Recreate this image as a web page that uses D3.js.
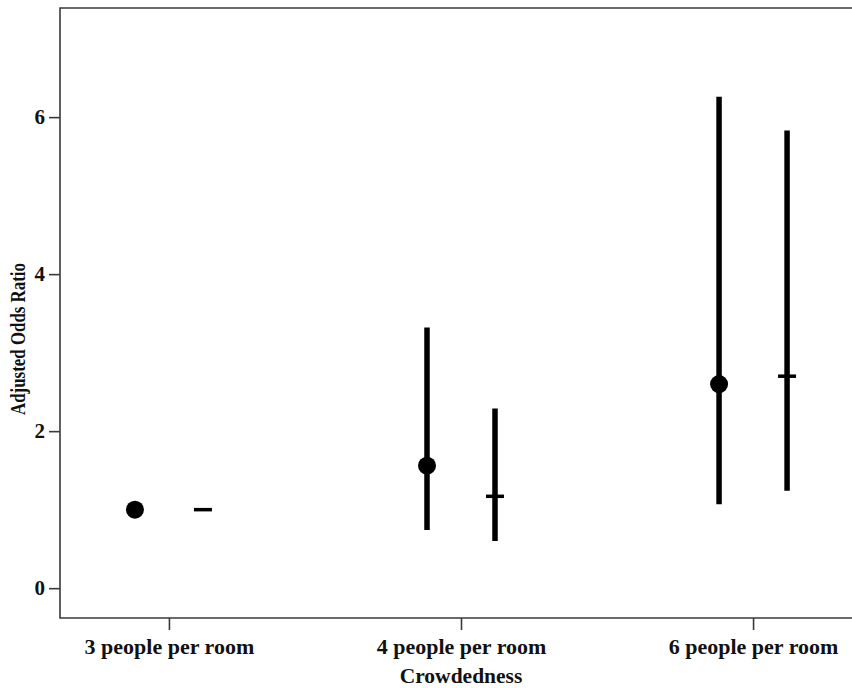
<!DOCTYPE html>
<html>
<head>
<meta charset="utf-8">
<script src="https://cdn.jsdelivr.net/npm/d3@7"></script>
<style>
  html, body { margin: 0; padding: 0; background: #fff; }
  svg text { font-family: "Liberation Serif", "Times New Roman", serif; }
</style>
</head>
<body>
<svg id="chart" width="852" height="688"></svg>
<script>
// ---- data ----
const categories = ["3 people per room", "4 people per room", "6 people per room"];
const series = ["Model A", "Model B"];
const estimateA = [1.0, 1.56, 2.60];
const lowerA    = [1.0, 0.74, 1.07];
const upperA    = [1.0, 3.32, 6.26];
const estimateB = [1.0, 1.17, 2.70];
const lowerB    = [1.0, 0.60, 1.24];
const upperB    = [1.0, 2.29, 5.83];
const yTicks = [0, 2, 4, 6];
const xTitle = "Crowdedness";
const yTitle = "Adjusted Odds Ratio";

// ---- layout ----
const svg = d3.select("#chart");
const mLeft = 60, mRight = 862, mTop = 8, mBottom = 618;

const x = d3.scalePoint().domain(categories).range([mLeft, mRight]).padding(0.373);
const y = d3.scaleLinear().domain([-0.38, 7.39]).range([mBottom, mTop]);
const offset = d3.scalePoint().domain(series).range([-34, 34]);

// frame
svg.append("path")
  .attr("d", `M${mRight},${mTop}H${mLeft}V${mBottom}H${mRight}`)
  .attr("fill", "none").attr("stroke", "#3a3a3a").attr("stroke-width", 1.6);

// y axis
const yAxis = svg.append("g").attr("transform", `translate(${mLeft},0)`)
  .call(d3.axisLeft(y).tickValues(yTicks).tickSize(11).tickPadding(4).tickFormat(d3.format("d")));
yAxis.select(".domain").remove();
yAxis.selectAll(".tick line").attr("stroke", "#3a3a3a").attr("stroke-width", 1.6);
yAxis.selectAll(".tick text").attr("font-size", 21).attr("font-weight", "bold").attr("fill", "#111")
  .attr("font-family", "Liberation Serif");

// x axis
const xAxis = svg.append("g").attr("transform", `translate(0,${mBottom})`)
  .call(d3.axisBottom(x).tickSize(12).tickPadding(8));
xAxis.select(".domain").remove();
xAxis.selectAll(".tick line").attr("stroke", "#3a3a3a").attr("stroke-width", 1.6);
xAxis.selectAll(".tick text").attr("font-size", 22).attr("font-weight", "bold").attr("fill", "#111")
  .attr("font-family", "Liberation Serif");

// axis titles
svg.append("text").attr("x", x(categories[1])).attr("y", 683)
  .attr("text-anchor", "middle").attr("font-size", 21.5).attr("font-weight", "bold").attr("fill", "#111")
  .text(xTitle);
svg.append("text").attr("transform", `translate(25,${(mTop + mBottom) / 2 + 26}) rotate(-90)`)
  .attr("text-anchor", "middle").attr("font-size", 20).attr("font-weight", "bold").attr("fill", "#111")
  .attr("textLength", 152).attr("lengthAdjust", "spacingAndGlyphs")
  .text(yTitle);

// data rows
const rowsA = categories.map((c, i) => ({ c, s: series[0], est: estimateA[i], lo: lowerA[i], hi: upperA[i] }));
const rowsB = categories.map((c, i) => ({ c, s: series[1], est: estimateB[i], lo: lowerB[i], hi: upperB[i] }));
const marks = svg.append("g");

// error bars
marks.selectAll("line.ci").data(rowsA.concat(rowsB).filter(d => d.hi > d.lo)).join("line")
  .attr("class", "ci")
  .attr("x1", d => x(d.c) + offset(d.s)).attr("x2", d => x(d.c) + offset(d.s))
  .attr("y1", d => y(d.lo)).attr("y2", d => y(d.hi))
  .attr("stroke", "#000").attr("stroke-width", 5.5);

// series A: filled circles
marks.selectAll("circle.est").data(rowsA).join("circle")
  .attr("class", "est")
  .attr("cx", d => x(d.c) + offset(d.s)).attr("cy", d => y(d.est))
  .attr("r", 9).attr("fill", "#000");

// series B: horizontal dashes
marks.selectAll("line.est").data(rowsB).join("line")
  .attr("class", "est")
  .attr("x1", d => x(d.c) + offset(d.s) - 9).attr("x2", d => x(d.c) + offset(d.s) + 9)
  .attr("y1", d => y(d.est)).attr("y2", d => y(d.est))
  .attr("stroke", "#000").attr("stroke-width", 3.5);
</script>
</body>
</html>
